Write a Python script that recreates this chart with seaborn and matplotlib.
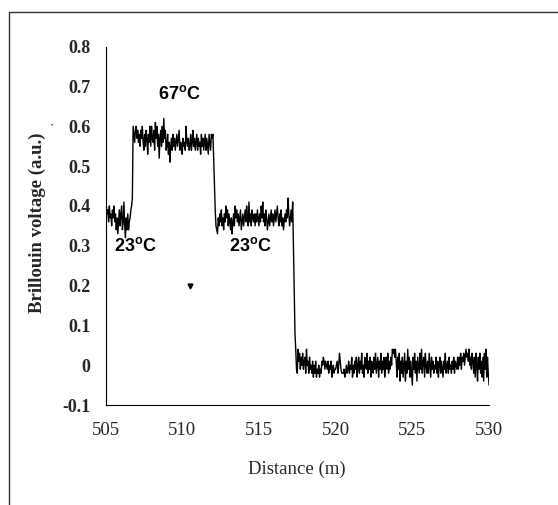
import numpy as np
import pandas as pd
import matplotlib.pyplot as plt
from matplotlib.lines import Line2D
import seaborn as sns

# ---- data (0.05 m sampling, 505 m -> 530 m) ----
cold_start = [0.33, 0.40, 0.38, 0.39, 0.36, 0.40, 0.37, 0.38, 0.35, 0.39,
              0.37, 0.40, 0.36, 0.38, 0.34, 0.37, 0.33, 0.36, 0.39, 0.35,
              0.38, 0.40, 0.34, 0.36, 0.41, 0.35, 0.32, 0.37, 0.34, 0.38]
rise_edge = [0.34, 0.36, 0.37, 0.39, 0.40, 0.42]
hot_zone = [0.60, 0.58, 0.56, 0.59,
            0.60, 0.57, 0.59, 0.56, 0.58, 0.55, 0.59, 0.57, 0.60, 0.56,
            0.54, 0.58, 0.55, 0.59, 0.57, 0.53, 0.58, 0.56, 0.60, 0.55,
            0.60, 0.57, 0.56, 0.59, 0.54, 0.61, 0.57, 0.60, 0.55, 0.58,
            0.52, 0.57, 0.59, 0.55, 0.60, 0.56, 0.62, 0.57, 0.59, 0.54,
            0.55, 0.58, 0.53, 0.56, 0.51, 0.55, 0.57, 0.54, 0.58, 0.55,
            0.57, 0.54, 0.56, 0.58, 0.55, 0.57, 0.59, 0.54, 0.56, 0.55,
            0.53, 0.57, 0.55, 0.56, 0.54, 0.60, 0.56, 0.55, 0.57, 0.54,
            0.55, 0.58, 0.54, 0.56, 0.59, 0.55, 0.57, 0.54, 0.56, 0.58,
            0.54, 0.57, 0.55, 0.56, 0.53, 0.58, 0.55, 0.57, 0.54, 0.56,
            0.58, 0.54, 0.57, 0.55, 0.53, 0.58, 0.56, 0.54, 0.58, 0.57,
            0.58]
fall_edge = [0.52, 0.45, 0.39, 0.35]
cold_mid = [0.34, 0.33, 0.37, 0.35, 0.38, 0.36, 0.39, 0.35, 0.37, 0.34,
            0.38, 0.36, 0.40, 0.37, 0.39, 0.35, 0.38, 0.36, 0.34, 0.37,
            0.33, 0.36, 0.38, 0.35, 0.40, 0.37, 0.39, 0.36, 0.38, 0.35,
            0.37, 0.39, 0.34, 0.36, 0.38, 0.35, 0.37, 0.39, 0.36, 0.40,
            0.37, 0.35, 0.41, 0.36, 0.38, 0.35, 0.39, 0.37, 0.36, 0.38,
            0.35, 0.38, 0.36, 0.39, 0.37, 0.35, 0.38, 0.36, 0.40, 0.37,
            0.41, 0.36, 0.38, 0.35, 0.39, 0.37, 0.34, 0.36, 0.38, 0.35,
            0.37, 0.39, 0.36, 0.38, 0.35, 0.37, 0.39, 0.36, 0.38, 0.40,
            0.37, 0.35, 0.38, 0.36, 0.39, 0.35, 0.37, 0.34, 0.36, 0.38,
            0.36, 0.39, 0.37, 0.42, 0.38, 0.35, 0.37, 0.39, 0.36, 0.41]
end_edge = [0.30, 0.18, 0.08, 0.04, -0.01]
fibre_end = [-0.02, 0.04, 0.01, 0.03, -0.01, 0.02, 0.00, 0.03, -0.01, 0.01,
             0.02, -0.02, 0.04, 0.00, 0.01, -0.02, 0.02, -0.01, 0.00, -0.02,
             0.01, -0.03, 0.00, -0.02, 0.01, -0.03, -0.01, -0.02, 0.00, -0.03,
             -0.01, -0.02, 0.01, 0.00, 0.02, 0.01, -0.01, 0.01, 0.00, -0.01,
             0.01, -0.02, 0.00, -0.01, 0.01, -0.03, -0.01, 0.00, -0.02, -0.01,
             -0.01, 0.00, 0.01, -0.02, 0.00, 0.03, 0.01, -0.01, -0.02, -0.02,
             -0.02, -0.01, -0.03, -0.02, 0.00, -0.02, -0.01, 0.01, -0.02, 0.00,
             -0.01, 0.02, -0.03, 0.00, -0.02, 0.01, -0.01, 0.02, -0.03, 0.00,
             0.02, -0.02, 0.01, -0.01, 0.03, -0.02, 0.00, -0.03, 0.02, 0.00,
             -0.01, 0.03, -0.02, 0.01, -0.01, 0.02, -0.03, 0.01, 0.00, -0.02,
             0.02, -0.01, 0.03, -0.02, 0.00, 0.02, -0.03, 0.01, -0.01, 0.03,
             -0.02, 0.01, -0.01, 0.02, -0.03, 0.00, 0.02, -0.01, 0.03, -0.02,
             0.01, -0.01, 0.02, 0.00, 0.04, 0.03, 0.04, 0.02, 0.04, 0.01,
             -0.03, 0.02, -0.01, 0.03, -0.04, 0.01, -0.02, 0.02, -0.03, 0.00,
             0.03, -0.04, 0.01, -0.02, 0.04, -0.01, 0.02, -0.03, 0.01, -0.02,
             -0.05, 0.02, -0.01, 0.03, -0.02, 0.01, -0.04, 0.02, 0.00, -0.02,
             0.03, -0.01, 0.04, -0.02, 0.01, 0.02, -0.03, 0.03, 0.00, -0.02,
             0.01, -0.02, 0.03, 0.00, -0.03, 0.02, -0.01, 0.01, -0.02, 0.00,
             -0.01, 0.02, -0.02, 0.01, -0.03, 0.00, 0.02, -0.02, 0.01, -0.01,
             -0.03, 0.01, -0.01, 0.03, -0.02, 0.00, 0.01, -0.02, 0.02, -0.01,
             0.00, -0.02, 0.01, -0.01, 0.02, -0.02, 0.01, 0.00, -0.01, 0.02,
             -0.01, 0.02, 0.00, 0.03, -0.01, 0.02, 0.01, 0.03, 0.00, 0.02,
             0.04, 0.02, 0.03, 0.01, 0.04, 0.00, 0.02, -0.01, 0.03, 0.01,
             -0.02, 0.02, -0.03, 0.03, 0.00, -0.04, 0.02, -0.01, 0.03, -0.02,
             0.01, -0.03, 0.02, -0.04, 0.03, -0.01, 0.04, -0.03, 0.02, -0.02,
             -0.05]

x_ticks = [505, 510, 515, 520, 525, 530]
y_ticks = [-0.1, 0, 0.1, 0.2, 0.3, 0.4, 0.5, 0.6, 0.7, 0.8]
y_tick_labels = ["-0.1", "0", "0.1", "0.2", "0.3", "0.4", "0.5", "0.6", "0.7", "0.8"]

labels = ["67$^{\\mathbf{o}}$C", "23$^{\\mathbf{o}}$C", "23$^{\\mathbf{o}}$C"]
label_x = [509.83, 506.93, 514.47]
label_y = [0.681, 0.30, 0.30]

voltage = cold_start + rise_edge + hot_zone + fall_edge + cold_mid + end_edge + fibre_end
distance = np.round(505 + 0.05 * np.arange(len(voltage)), 2)
df = pd.DataFrame({"distance": distance, "voltage": voltage})

sns.set_style("white")
plt.rcParams["font.family"] = ["Liberation Serif", "DejaVu Serif"]
plt.rcParams["mathtext.fontset"] = "custom"
plt.rcParams["mathtext.rm"] = "Liberation Sans"
plt.rcParams["mathtext.it"] = "Liberation Sans:italic"
plt.rcParams["mathtext.bf"] = "Liberation Sans:bold"

fig = plt.figure(figsize=(5.58, 5.05), dpi=100)
ax = fig.add_axes([0.1891, 0.198, 0.6873, 0.7095])

sns.lineplot(data=df, x="distance", y="voltage", color="black", lw=1.0,
             sort=False, estimator=None, ax=ax)

ax.set_xlim(505, 530)
ax.set_ylim(-0.1, 0.8)
ax.set_xticks(x_ticks)
ax.set_xticklabels([str(t) for t in x_ticks], fontsize=13.5)
ax.set_yticks(y_ticks)
ax.set_yticklabels(y_tick_labels, fontsize=13, fontweight="bold")
ax.tick_params(axis="both", direction="out", length=3, width=0.8, color="black")
ax.tick_params(axis="y", pad=8)
ax.tick_params(axis="x", pad=9)

for side in ["top", "right"]:
    ax.spines[side].set_visible(False)
for side in ["left", "bottom"]:
    ax.spines[side].set_color("black")
    ax.spines[side].set_linewidth(0.8)

ax.set_xlabel("Distance (m)", fontsize=13.5)
ax.xaxis.label.set_va("center")
ax.xaxis.set_label_coords(0.5, -0.179)
ax.set_ylabel("Brillouin voltage (a.u.)", fontsize=13.5, fontweight="bold")
ax.yaxis.label.set_va("center")
ax.yaxis.set_label_coords(-0.178, 0.509)

for txt, tx, ty in zip(labels, label_x, label_y):
    ax.text(tx, ty, txt, ha="center", va="center", fontsize=13,
            family="Liberation Sans", fontweight="bold", color="black")

# stray specks in the scan
ax.plot([510.5], [0.20], marker="v", ms=3.5, color="black", clip_on=False)
fig.text(51.7 / 558, 1 - 125 / 505, "\u2022", fontsize=5, ha="center", va="center")

# frame lines of the scanned figure
fig.add_artist(Line2D([8.5 / 558, 8.5 / 558], [0, 1 - 12 / 505],
                      transform=fig.transFigure, color="#333333", lw=1))
fig.add_artist(Line2D([8.5 / 558, 1], [1 - 12 / 505, 1 - 12 / 505],
                      transform=fig.transFigure, color="#333333", lw=1))

fig.savefig("out.png", dpi=100)
